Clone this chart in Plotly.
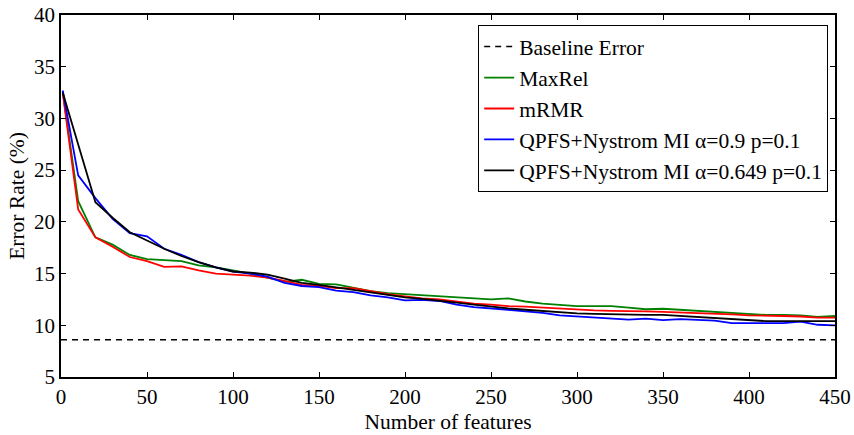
import plotly.graph_objects as go

# Number of selected features
n_features = [1] + list(range(10, 451, 10))

baseline_error = 8.6

maxrel = [32.6, 22.0, 18.5, 17.8, 16.8, 16.4, 16.3, 16.2, 15.8, 15.6, 15.3,
          15.0, 14.6, 14.2, 14.4, 14.0, 13.95, 13.6, 13.3, 13.1, 13.0,
          12.95, 12.85, 12.7, 12.65, 12.5, 12.6, 12.3, 12.1, 11.95, 11.85,
          11.85, 11.85, 11.7, 11.55, 11.6, 11.5, 11.45, 11.3, 11.2, 11.1,
          11.0, 11.0, 10.95, 10.8, 10.9]

mrmr = [32.5, 21.2, 18.5, 17.6, 16.6, 16.2, 15.65, 15.7, 15.3, 15.0, 14.9,
        14.8, 14.6, 14.3, 13.9, 13.8, 13.6, 13.6, 13.3, 13.0, 12.8,
        12.6, 12.5, 12.3, 12.1, 12.0, 11.85, 11.8, 11.7, 11.6, 11.5,
        11.45, 11.4, 11.4, 11.35, 11.3, 11.25, 11.2, 11.1, 11.05, 10.95,
        10.95, 10.9, 10.85, 10.75, 10.75]

qpfs_a09 = [32.7, 24.5, 22.3, 20.3, 18.9, 18.6, 17.4, 16.8, 16.1, 15.6, 15.2,
            15.0, 14.7, 14.1, 13.8, 13.7, 13.35, 13.2, 12.9, 12.7, 12.4,
            12.45, 12.35, 12.0, 11.75, 11.65, 11.5, 11.35, 11.2, 10.95, 10.85,
            10.7, 10.6, 10.55, 10.65, 10.5, 10.6, 10.55, 10.45, 10.2, 10.2,
            10.15, 10.2, 10.35, 10.05, 10.0]

qpfs_a0649 = [32.5, 27.4, 21.9, 20.4, 19.0, 18.2, 17.4, 16.7, 16.1, 15.6, 15.2,
              15.1, 14.9, 14.5, 14.1, 13.9, 13.65, 13.4, 13.15, 12.9, 12.7,
              12.55, 12.4, 12.2, 12.0, 11.8, 11.63, 11.5, 11.37, 11.25, 11.15,
              11.1, 11.05, 11.0, 11.0, 11.0, 10.9, 10.8, 10.65, 10.55, 10.45,
              10.4, 10.4, 10.4, 10.4, 10.4]

font_family = "Liberation Serif, Times New Roman, serif"

fig = go.Figure()

fig.add_trace(go.Scatter(
    x=[0, 450], y=[baseline_error, baseline_error], mode="lines",
    name="Baseline Error", legendgroup="a",
    line=dict(color="black", width=1.5, dash="6px,5px")))

series = [
    ("MaxRel", maxrel, "#008000", "b"),
    ("mRMR", mrmr, "#ff0000", "c"),
    ("QPFS+Nystrom MI \u03b1=0.9 p=0.1", qpfs_a09, "#0000ff", "d"),
    ("QPFS+Nystrom MI \u03b1=0.649 p=0.1", qpfs_a0649, "#000000", "e"),
]
for name, vals, color, grp in series:
    fig.add_trace(go.Scatter(
        x=n_features, y=vals, mode="lines", name=name, legendgroup=grp,
        line=dict(color=color, width=1.8)))

axis_common = dict(
    showline=True, linecolor="black", linewidth=1.5, mirror="ticks",
    ticks="inside", ticklen=5, tickwidth=1, tickcolor="black",
    showgrid=False, zeroline=False, automargin=False,
    tickfont=dict(family=font_family, size=21, color="black"),
)

fig.update_xaxes(range=[0, 450], tickvals=list(range(0, 451, 50)),
                 title=dict(text="Number of features",
                            font=dict(family=font_family, size=21.5, color="black"),
                            standoff=6),
                 **axis_common)
fig.update_yaxes(range=[5, 40], tickvals=list(range(5, 41, 5)),
                 title=dict(text="Error Rate (%)",
                            font=dict(family=font_family, size=21.5, color="black"),
                            standoff=4),
                 **axis_common)

fig.update_layout(
    width=854, height=435,
    margin=dict(l=61, r=19, t=15, b=58),
    paper_bgcolor="white", plot_bgcolor="white",
    font=dict(family=font_family, size=21, color="black"),
    showlegend=True,
    legend=dict(
        x=0.539, y=0.972, xanchor="left", yanchor="top",
        bgcolor="white", bordercolor="black", borderwidth=1,
        font=dict(family=font_family, size=21.5, color="black"),
        traceorder="grouped", tracegroupgap=0,
    ),
)

fig.write_html("out.html")
